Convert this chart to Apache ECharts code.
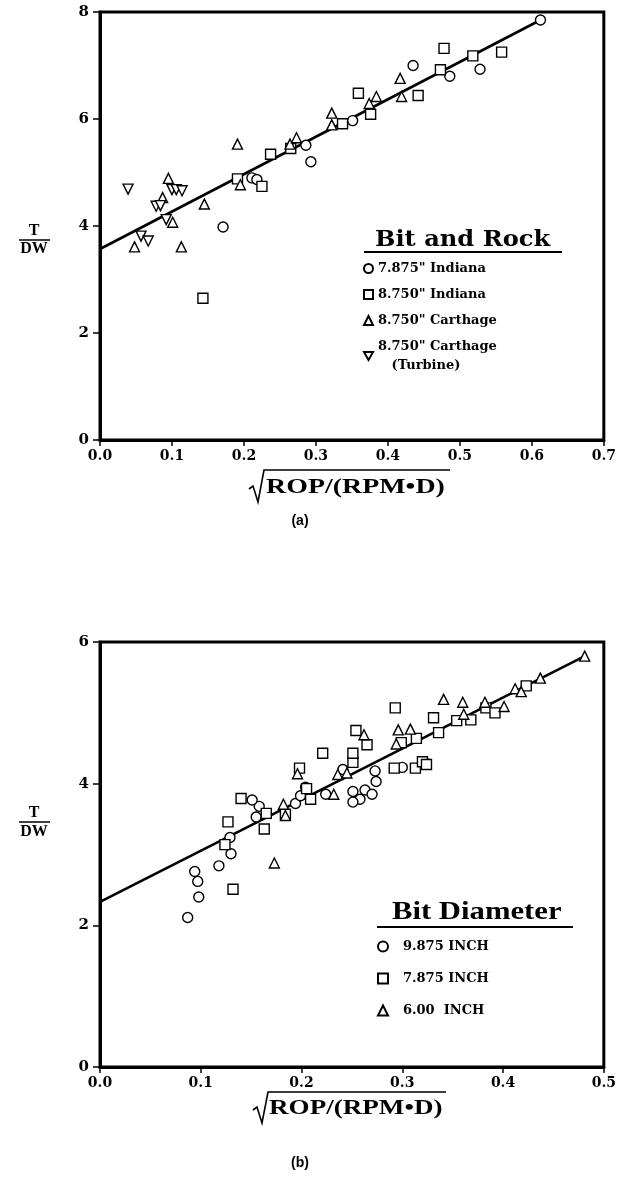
<!DOCTYPE html>
<html>
<head>
<meta charset="utf-8">
<script src="https://cdn.jsdelivr.net/npm/echarts@6/dist/echarts.min.js"></script>
<style>
html,body{margin:0;padding:0;background:#fff;}
#chart{width:619px;height:1185px;}
</style>
</head>
<body>
<div id="chart"></div>
<script>
// ---------- Chart (a) data ----------
const aXTicks = [0, 0.1, 0.2, 0.3, 0.4, 0.5, 0.6, 0.7];
const aYTicks = [0, 2, 4, 6, 8];
const aIndiana7875 = [[0.171,3.98],[0.211,4.90],[0.218,4.87],[0.286,5.51],[0.293,5.20],[0.351,5.97],[0.435,7.00],[0.486,6.80],[0.528,6.93],[0.612,7.85]];
const aIndiana8750 = [[0.143,2.65],[0.191,4.88],[0.225,4.74],[0.237,5.34],[0.265,5.45],[0.337,5.91],[0.359,6.48],[0.376,6.09],[0.442,6.44],[0.473,6.92],[0.478,7.32],[0.518,7.18],[0.558,7.25]];
const aCarthage8750 = [[0.048,3.61],[0.087,4.53],[0.095,4.89],[0.101,4.07],[0.113,3.61],[0.145,4.41],[0.191,5.53],[0.195,4.77],[0.264,5.53],[0.273,5.65],[0.322,6.11],[0.322,5.89],[0.374,6.29],[0.384,6.42],[0.417,6.76],[0.419,6.42]];
const aCarthageTurbine = [[0.039,4.69],[0.057,3.81],[0.067,3.72],[0.078,4.37],[0.084,4.38],[0.092,4.12],[0.100,4.68],[0.106,4.68],[0.114,4.66]];
const aFitLine = [[0, 3.57], [0.612, 7.85]];

// ---------- Chart (b) data ----------
const bXTicks = [0, 0.1, 0.2, 0.3, 0.4, 0.5];
const bYTicks = [0, 2, 4, 6];
const bDia9875 = [[0.087,2.11],[0.098,2.40],[0.097,2.62],[0.094,2.76],[0.118,2.84],[0.130,3.01],[0.129,3.24],[0.155,3.53],[0.158,3.68],[0.151,3.77],[0.194,3.72],[0.199,3.83],[0.204,3.95],[0.224,3.85],[0.241,4.20],[0.273,4.18],[0.274,4.03],[0.251,3.89],[0.263,3.91],[0.270,3.85],[0.258,3.78],[0.251,3.74],[0.300,4.23],[0.323,4.29]];
const bDia7875 = [[0.132,2.51],[0.124,3.14],[0.127,3.46],[0.163,3.36],[0.165,3.58],[0.140,3.79],[0.184,3.57],[0.205,3.93],[0.209,3.78],[0.198,4.22],[0.221,4.43],[0.251,4.30],[0.251,4.43],[0.254,4.75],[0.265,4.55],[0.293,5.07],[0.299,4.58],[0.314,4.64],[0.292,4.22],[0.313,4.22],[0.320,4.31],[0.324,4.27],[0.331,4.93],[0.336,4.72],[0.354,4.89],[0.368,4.90],[0.383,5.07],[0.392,5.00],[0.423,5.38]];
const bDia600 = [[0.173,2.88],[0.184,3.55],[0.182,3.71],[0.232,3.85],[0.196,4.14],[0.236,4.13],[0.245,4.15],[0.262,4.69],[0.296,4.76],[0.308,4.77],[0.294,4.56],[0.341,5.19],[0.360,5.15],[0.361,4.98],[0.382,5.15],[0.401,5.09],[0.412,5.34],[0.418,5.30],[0.437,5.49],[0.481,5.80]];
const bFitLine = [[0, 2.33], [0.481, 5.80]];

const aNames = ['7.875" Indiana', '8.750" Indiana', '8.750" Carthage', '8.750" Carthage\n   (Turbine)'];
const bNames = ['9.875 INCH', '7.875 INCH', '6.00  INCH'];

const DOWN_TRI = 'path://M0,0 L10,0 L5,9 Z';
const SERIF = '"DejaVu Serif", "Liberation Serif", serif';
const SERIF2 = '"Liberation Serif", "DejaVu Serif", serif';

const chart = echarts.init(document.getElementById('chart'), null, {renderer: 'canvas'});

function mk(name, data, symbol, size, gi) {
  return {
    type: 'scatter', name: name, data: data, symbol: symbol, symbolSize: size,
    xAxisIndex: gi, yAxisIndex: gi, z: 3,
    itemStyle: {color: '#fff', borderColor: '#000', borderWidth: 1.4, opacity: 1}
  };
}
function fit(data, gi) {
  return {type: 'line', data: data, symbol: 'none', xAxisIndex: gi, yAxisIndex: gi,
    lineStyle: {color: '#000', width: 2.6}, z: 2, silent: true};
}
function xAxisOf(gi, ticks) {
  return {
    type: 'value', gridIndex: gi, min: ticks[0], max: ticks[ticks.length - 1], interval: 0.1,
    axisLine: {show: true, onZero: false, lineStyle: {color: '#000', width: 3}},
    axisTick: {show: true, length: 6, lineStyle: {color: '#000', width: 1.5}},
    splitLine: {show: false},
    axisLabel: {margin: 9, color: '#000', fontFamily: SERIF, fontWeight: 'bold', fontSize: 14,
      formatter: v => v.toFixed(1)}
  };
}
function yAxisOf(gi, ticks) {
  return {
    type: 'value', gridIndex: gi, min: ticks[0], max: ticks[ticks.length - 1], interval: 2,
    axisLine: {show: true, onZero: false, lineStyle: {color: '#000', width: 3}},
    axisTick: {show: true, length: 7, lineStyle: {color: '#000', width: 1.5}},
    splitLine: {show: false},
    axisLabel: {margin: 11, color: '#000', fontFamily: SERIF, fontWeight: 'bold', fontSize: 15}
  };
}

const option = {
  animation: false,
  backgroundColor: '#fff',
  grid: [
    {left: 100, top: 12, width: 508, height: 428, show: true, borderColor: '#000', borderWidth: 3, backgroundColor: 'transparent'},
    {left: 100, top: 642, width: 504, height: 425, show: true, borderColor: '#000', borderWidth: 3, backgroundColor: 'transparent'}
  ],
  xAxis: [xAxisOf(0, aXTicks), xAxisOf(1, bXTicks)],
  yAxis: [yAxisOf(0, aYTicks), yAxisOf(1, bYTicks)],
  legend: [
    {
      data: aNames, orient: 'vertical', left: 358, top: 254, itemGap: 7,
      itemWidth: 9, itemHeight: 9, selectedMode: false,
      textStyle: {fontFamily: SERIF, fontWeight: 'bold', fontSize: 13, color: '#000', lineHeight: 19, padding: [0, 0, 0, 0]}
    },
    {
      data: bNames, orient: 'vertical', left: 372, top: 933, itemGap: 15,
      itemWidth: 10, itemHeight: 10, selectedMode: false,
      textStyle: {fontFamily: SERIF, fontWeight: 'bold', fontSize: 13, color: '#000', lineHeight: 17, padding: [0, 0, 0, 10]}
    }
  ],
  series: [
    mk(aNames[0], aIndiana7875, 'circle', 10, 0),
    mk(aNames[1], aIndiana8750, 'rect', 10, 0),
    mk(aNames[2], aCarthage8750, 'triangle', 10, 0),
    mk(aNames[3], aCarthageTurbine, DOWN_TRI, 10, 0),
    fit(aFitLine, 0),
    mk(bNames[0], bDia9875, 'circle', 10, 1),
    mk(bNames[1], bDia7875, 'rect', 10, 1),
    mk(bNames[2], bDia600, 'triangle', 10, 1),
    fit(bFitLine, 1)
  ],
  graphic: [
    // Legend title (a)
    {type: 'text', x: 375, y: 240, scaleX: 1.05, style: {text: 'Bit and Rock', font: 'bold 23px ' + SERIF, fill: '#000', verticalAlign: 'middle'}},
    {type: 'line', shape: {x1: 364, y1: 252, x2: 562, y2: 252}, style: {stroke: '#000', lineWidth: 2}},
    // Legend title (b)
    {type: 'text', x: 392, y: 912, scaleX: 1.18, style: {text: 'Bit Diameter', font: 'bold 26px ' + SERIF2, fill: '#000', verticalAlign: 'middle'}},
    {type: 'line', shape: {x1: 377, y1: 927, x2: 573, y2: 927}, style: {stroke: '#000', lineWidth: 2}},
    // Y titles
    {type: 'text', x: 34, y: 231, style: {text: 'T', font: 'bold 16px ' + SERIF2, fill: '#000', align: 'center', verticalAlign: 'middle'}},
    {type: 'line', shape: {x1: 19, y1: 240, x2: 50, y2: 240}, style: {stroke: '#000', lineWidth: 1.5}},
    {type: 'text', x: 34, y: 249, style: {text: 'DW', font: 'bold 16px ' + SERIF2, fill: '#000', align: 'center', verticalAlign: 'middle'}},
    {type: 'text', x: 34, y: 813, style: {text: 'T', font: 'bold 16px ' + SERIF2, fill: '#000', align: 'center', verticalAlign: 'middle'}},
    {type: 'line', shape: {x1: 19, y1: 822, x2: 50, y2: 822}, style: {stroke: '#000', lineWidth: 1.5}},
    {type: 'text', x: 34, y: 832, style: {text: 'DW', font: 'bold 16px ' + SERIF2, fill: '#000', align: 'center', verticalAlign: 'middle'}},
    // X titles with radical sign
    {type: 'polyline', shape: {points: [[249, 489], [253, 486], [258, 502], [264, 470], [450, 470]]}, style: {stroke: '#000', lineWidth: 1.6, fill: null}},
    {type: 'text', x: 266, y: 488, scaleX: 1.33, style: {text: 'ROP/(RPM\u2022D)', font: 'bold 21px ' + SERIF2, fill: '#000', verticalAlign: 'middle'}},
    {type: 'polyline', shape: {points: [[253, 1110], [257, 1107], [262, 1123], [268, 1092], [446, 1092]]}, style: {stroke: '#000', lineWidth: 1.6, fill: null}},
    {type: 'text', x: 269, y: 1109, scaleX: 1.29, style: {text: 'ROP/(RPM\u2022D)', font: 'bold 21px ' + SERIF2, fill: '#000', verticalAlign: 'middle'}},
    // Captions
    {type: 'text', x: 300, y: 521, style: {text: '(a)', font: 'bold 14px Arial, "Liberation Sans", sans-serif', fill: '#000', align: 'center', verticalAlign: 'middle'}},
    {type: 'text', x: 300, y: 1163, style: {text: '(b)', font: 'bold 14px Arial, "Liberation Sans", sans-serif', fill: '#000', align: 'center', verticalAlign: 'middle'}}
  ]
};
chart.setOption(option);
</script>
</body>
</html>
